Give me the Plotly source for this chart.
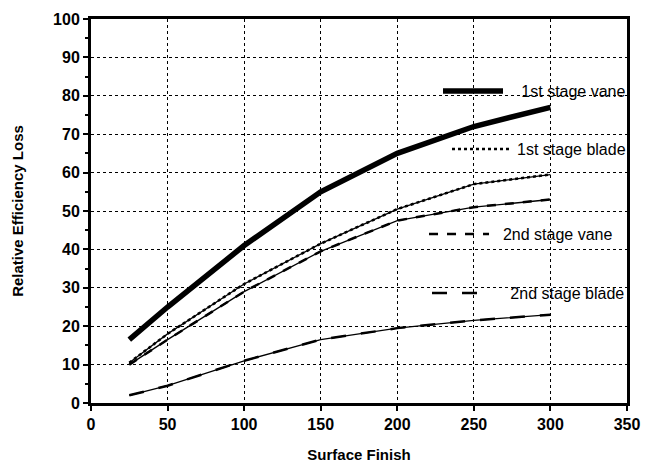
import plotly.graph_objects as go

x_vals = [25, 50, 100, 150, 200, 250, 300]
vane1 = [16.5, 25, 41, 55, 65, 72, 77]
blade1 = [10.5, 18, 31, 41.5, 50.5, 57, 59.5]
vane2 = [10, 16.5, 29, 39.5, 47.5, 51, 53]
blade2 = [2, 4.5, 11, 16.5, 19.5, 21.5, 23]
names = ["1st stage vane", "1st stage blade", "2nd stage vane", "2nd stage blade"]
pads = [3, 0, 2, 3]
series = [vane1, blade1, vane2, blade2]
styles = [("solid", 5.5), ("dot", 2.5), ("dash", 2.5), ("longdash", 2.5)]
legend_pos = [(0.6474, 0.8125), (0.6642, 0.661), (0.6213, 0.440), (0.6269, 0.286)]

fig = go.Figure()
for i, (nm, ys, (dash, w)) in enumerate(zip(names, series, styles)):
    lg = "legend" if i == 0 else f"legend{i+1}"
    if i > 0:
        fig.add_trace(go.Scatter(x=x_vals, y=ys, mode="lines", showlegend=False,
                                 line=dict(color="black", width=1.3), hoverinfo="skip"))
    fig.add_trace(go.Scatter(x=x_vals, y=ys, mode="lines", name="\u00a0" * pads[i] + nm, legend=lg,
                             line=dict(color="black", width=w, dash=dash)))

layout_legends = {}
for i, (lx, ly) in enumerate(legend_pos):
    key = "legend" if i == 0 else f"legend{i+1}"
    layout_legends[key] = dict(x=lx, y=ly, xanchor="left", yanchor="middle",
                               bgcolor="rgba(0,0,0,0)", itemwidth=60,
                               font=dict(family="Liberation Sans, Arial", size=16, color="black"))

fig.update_layout(
    width=645, height=468,
    margin=dict(l=91, r=18, t=19, b=65),
    paper_bgcolor="white", plot_bgcolor="white",
    font=dict(family="Liberation Sans, Arial", color="black"),
    xaxis=dict(range=[0, 350], dtick=50, tick0=0, showgrid=True, gridcolor="black",
               griddash="dot", gridwidth=1, showline=True, linecolor="black", linewidth=3,
               mirror=True, ticks="outside", ticklen=5, tickwidth=2, tickcolor="black",
               zeroline=False, automargin=False,
               tickfont=dict(size=16, family="Liberation Sans, Arial", weight="bold"),
               title=dict(text="<b>Surface Finish</b>", font=dict(size=15), standoff=18)),
    yaxis=dict(range=[0, 100], dtick=10, tick0=0, showgrid=True, gridcolor="black",
               griddash="dot", gridwidth=1, showline=True, linecolor="black", linewidth=3,
               mirror=True, ticks="outside", ticklen=5, tickwidth=2, tickcolor="black",
               zeroline=False, automargin=False,
               minor=dict(dtick=5, ticks="outside", ticklen=3, tickcolor="black", showgrid=False),
               tickfont=dict(size=16, family="Liberation Sans, Arial", weight="bold"),
               title=dict(text="<b>Relative Efficiency Loss</b>", font=dict(size=15), standoff=26)),
    **layout_legends,
)
fig.write_html("out.html", config={"displayModeBar": False},
               post_script="document.body.style.margin='0';document.body.style.overflow='hidden';")
